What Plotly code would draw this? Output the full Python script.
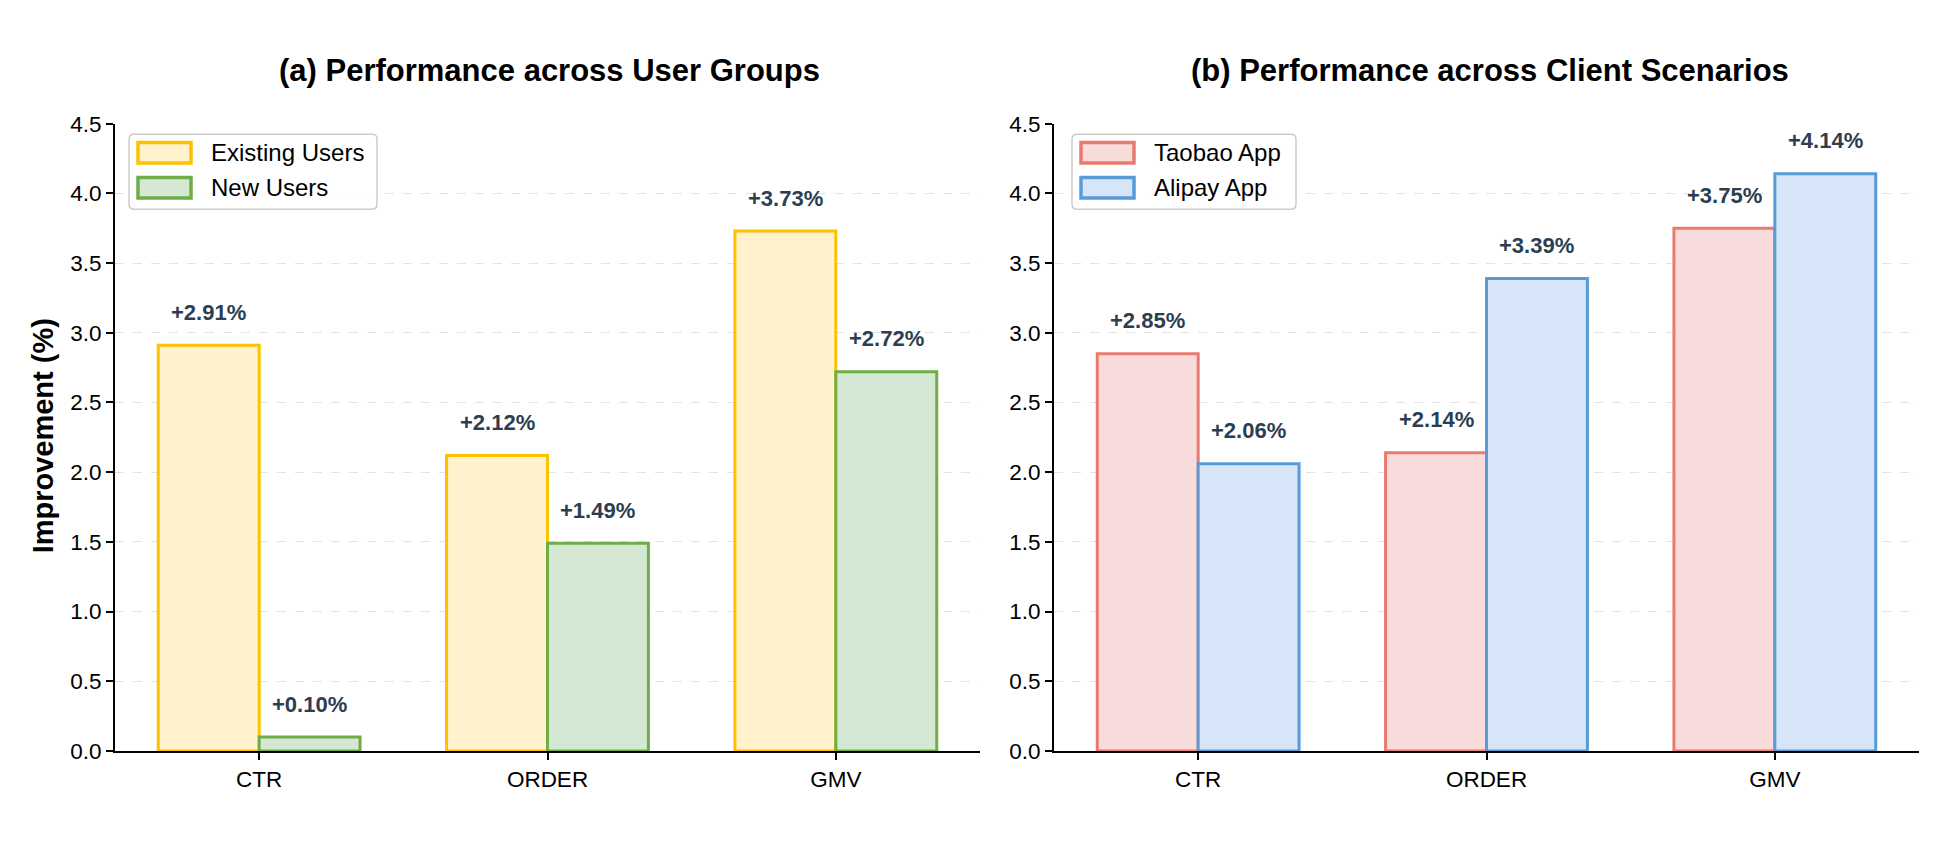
import plotly.graph_objects as go

categories = ["CTR", "ORDER", "GMV"]
existing_users = [2.91, 2.12, 3.73]
new_users = [0.10, 1.49, 2.72]
taobao_app = [2.85, 2.14, 3.75]
alipay_app = [2.06, 3.39, 4.14]
y_ticks = [0.0, 0.5, 1.0, 1.5, 2.0, 2.5, 3.0, 3.5, 4.0, 4.5]

W, H = 1952, 864
FONT = "Liberation Sans, Arial, sans-serif"
BAR_W = 0.35


def px(x):
    return x / W


def py(y):
    return 1 - y / H


panels = [
    dict(title="(a) Performance across User Groups", xa="x", ya="y", title_x=549,
         legend_x=129, legend_w=248,
         series=[("Existing Users", existing_users, "#FFC000", "#FFF2CC"),
                 ("New Users", new_users, "#70AD47", "#D5E8D4")]),
    dict(title="(b) Performance across Client Scenarios", xa="x2", ya="y2", title_x=1490,
         legend_x=1072, legend_w=224,
         series=[("Taobao App", taobao_app, "#E87B70", "#F8DCDB"),
                 ("Alipay App", alipay_app, "#5B9BD5", "#D6E6F8")]),
]

fig = go.Figure()
annotations = []
shapes = []
idx = list(range(len(categories)))

for p in panels:
    x0, x1 = p["legend_x"], p["legend_x"] + p["legend_w"]
    y0, y1 = 126, 203
    r = 5
    path = (f"M {px(x0 + r)} {py(y0)} L {px(x1 - r)} {py(y0)} Q {px(x1)} {py(y0)} {px(x1)} {py(y0 + r)} "
            f"L {px(x1)} {py(y1 - r)} Q {px(x1)} {py(y1)} {px(x1 - r)} {py(y1)} "
            f"L {px(x0 + r)} {py(y1)} Q {px(x0)} {py(y1)} {px(x0)} {py(y1 - r)} "
            f"L {px(x0)} {py(y0 + r)} Q {px(x0)} {py(y0)} {px(x0 + r)} {py(y0)} Z")
    shapes.append(dict(type="path", xref="paper", yref="paper", path=path,
                       fillcolor="rgba(255,255,255,0.85)", line=dict(color="#CCCCCC", width=1.5),
                       layer="above"))
    for k, (name, vals, edge, fill) in enumerate(p["series"]):
        off = (k - 0.5) * BAR_W
        xs = [i + off for i in idx]
        fig.add_trace(go.Bar(
            x=xs, y=vals, width=BAR_W, name=name, showlegend=False,
            marker=dict(color=fill, line=dict(color=edge, width=3)),
            xaxis=p["xa"], yaxis=p["ya"],
        ))
        for xv, v in zip(xs, vals):
            annotations.append(dict(
                x=xv, y=v, xref=p["xa"], yref=p["ya"], text=f"+{v:.2f}%",
                showarrow=False, yshift=33, xanchor="center", yanchor="middle",
                font=dict(family=FONT, size=22, color="#2C3E50", weight="bold"),
            ))
        cy = 145 + 36 * k
        shapes.append(dict(type="rect", xref="paper", yref="paper",
                           x0=px(x0 + 9), x1=px(x0 + 62), y0=py(cy - 10.5), y1=py(cy + 10.5),
                           fillcolor=fill, line=dict(color=edge, width=3.5), layer="above"))
        annotations.append(dict(x=px(x0 + 80), y=py(cy), xref="paper", yref="paper", text=name,
                                showarrow=False, xanchor="left", yanchor="middle",
                                font=dict(family=FONT, size=24, color="black")))
    annotations.append(dict(
        x=px(p["title_x"]), y=py(60), xref="paper", yref="paper", text=p["title"], showarrow=False,
        xanchor="center", yanchor="middle",
        font=dict(family=FONT, size=31, color="black", weight="bold"),
    ))

annotations.append(dict(
    x=px(43), y=py(437), xref="paper", yref="paper", text="Improvement (%)", showarrow=False,
    textangle=-90, xanchor="center", yanchor="middle",
    font=dict(family=FONT, size=29, color="black", weight="bold"),
))

axis_common = dict(showline=True, linecolor="black", linewidth=2, ticks="outside",
                   ticklen=7, tickwidth=1.5, tickcolor="black", mirror=False,
                   tickfont=dict(family=FONT, size=22.5, color="black"), zeroline=False)
xcommon = dict(axis_common, range=[-0.5, 2.5], tickvals=idx, ticktext=categories, showgrid=False)
ycommon = dict(axis_common, range=[0, 4.5], tickvals=y_ticks, tickformat=".1f",
               showgrid=True, gridcolor="#E3E3E3", griddash="dash", gridwidth=1.2)

fig.update_layout(
    width=W, height=H,
    margin=dict(l=0, r=0, t=0, b=0),
    paper_bgcolor="white", plot_bgcolor="white",
    barmode="overlay",
    showlegend=False,
    xaxis=dict(xcommon, domain=[px(115), px(980)], anchor="y"),
    yaxis=dict(ycommon, domain=[py(761), py(115)], anchor="x"),
    xaxis2=dict(xcommon, domain=[px(1054), px(1919)], anchor="y2"),
    yaxis2=dict(ycommon, domain=[py(761), py(115)], anchor="x2"),
    annotations=annotations,
    shapes=shapes,
)

fig.write_html("out.html")
